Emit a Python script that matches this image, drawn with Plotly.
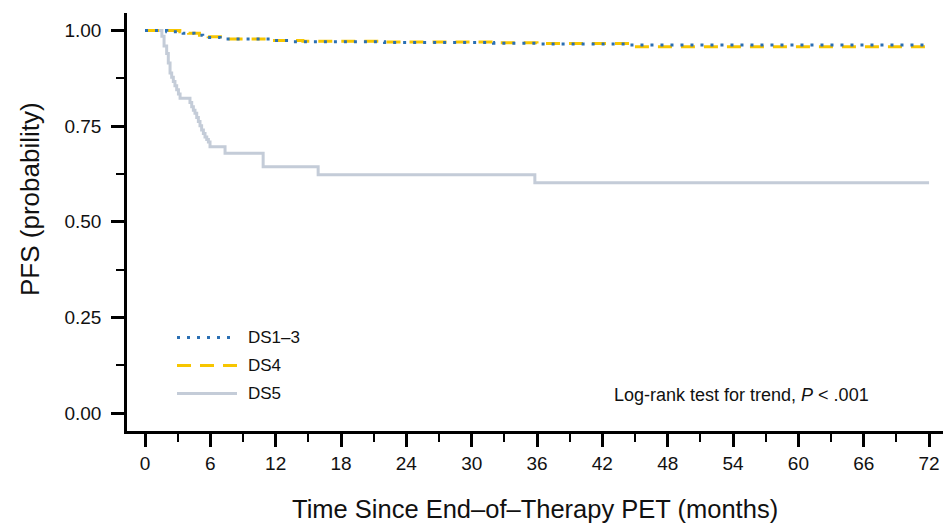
import plotly.graph_objects as go

# Kaplan-Meier step estimates of progression-free survival by Deauville score
ds13_months = [0, 2.0, 3.5, 4.5, 5.3, 6.9, 11.5, 13.5, 22.0, 32.0, 36.0, 44.5, 72.0]
ds13_surv = [1.0, 0.997, 0.993, 0.988, 0.982, 0.978, 0.974, 0.971, 0.969, 0.967, 0.965, 0.962, 0.962]

ds4_months = [0, 3.2, 4.0, 5.0, 5.8, 7.5, 11.7, 14.5, 22.0, 32.0, 36.0, 44.5, 72.0]
ds4_surv = [1.0, 0.997, 0.993, 0.988, 0.984, 0.978, 0.974, 0.972, 0.970, 0.968, 0.966, 0.958, 0.958]

ds5_months = [0, 1.55, 1.75, 1.99, 2.14, 2.30, 2.45, 2.60, 2.75, 2.91, 3.07, 3.22,
              4.13, 4.29, 4.44, 4.59, 4.75, 4.90, 5.05, 5.20, 5.36, 5.51, 5.67,
              5.82, 5.97, 7.35, 10.85, 15.9, 35.8, 72.0]
ds5_surv = [1.0, 0.985, 0.96, 0.94, 0.915, 0.889, 0.878, 0.867, 0.856, 0.845, 0.834, 0.823,
            0.812, 0.801, 0.792, 0.784, 0.773, 0.762, 0.751, 0.740, 0.731, 0.722, 0.715,
            0.709, 0.696, 0.679, 0.644, 0.623, 0.602, 0.602]

x_ticks = list(range(0, 73, 6))
y_ticks = [0, 0.25, 0.5, 0.75, 1.0]

series_names = ["DS1–3", "DS4", "DS5"]
BLUE = "#2a6fb3"
YELLOW = "#f7c600"
GRAY = "#c4ccd8"

REG = "Liberation Sans, Arial, sans-serif"

fig = go.Figure()
fig.add_trace(go.Scatter(x=ds5_months, y=ds5_surv, mode="lines", line_shape="hv",
                         line=dict(color=GRAY, width=3), name=series_names[2]))
fig.add_trace(go.Scatter(x=ds4_months, y=ds4_surv, mode="lines", line_shape="hv",
                         line=dict(color=YELLOW, width=3, dash="14px,9px"), name=series_names[1]))
fig.add_trace(go.Scatter(x=ds13_months, y=ds13_surv, mode="lines", line_shape="hv",
                         line=dict(color=BLUE, width=3, dash="3px,7px"), name=series_names[0]))

L, R, T, B = 127, 1, 13, 94
W, H = 944, 525
pw, ph = W - L - R, H - T - B


def px(xp):
    return (xp - L) / pw


def py(yp):
    return (H - B - yp) / ph


# hand-placed key in the lower-left corner
key_rows = [(series_names[0], BLUE, "3px,7px", 337.5),
            (series_names[1], YELLOW, "14px,9px", 365.5),
            (series_names[2], GRAY, "solid", 393.5)]
shapes = []
annotations = []
for label, col, dash, yp in key_rows:
    shapes.append(dict(type="line", xref="paper", yref="paper",
                       x0=px(177), x1=px(237), y0=py(yp), y1=py(yp),
                       line=dict(color=col, width=3, dash=dash)))
    annotations.append(dict(text=label, xref="paper", yref="paper", x=px(246), y=py(yp),
                            xanchor="left", yanchor="middle", showarrow=False,
                            font=dict(family=REG, size=17, color="#111")))

annotations.append(dict(text="Log-rank test for trend, <i>P</i> < .001", xref="paper", yref="paper",
                        x=px(612), y=py(395), xanchor="left", yanchor="middle", showarrow=False,
                        font=dict(family=REG, size=18, color="#111")))
annotations.append(dict(text="Time Since End–of–Therapy PET (months)", xref="paper", yref="paper",
                        x=0.5, y=py(509), xanchor="center", yanchor="middle", showarrow=False,
                        font=dict(family=REG, size=25.5, color="#111")))
annotations.append(dict(text="PFS (probability)", xref="paper", yref="paper", textangle=-90,
                        x=px(30), y=py(199), xanchor="center", yanchor="middle", showarrow=False,
                        font=dict(family=REG, size=26, color="#111")))

fig.update_layout(
    width=W, height=H,
    margin=dict(l=L, r=R, t=T, b=B),
    paper_bgcolor="white", plot_bgcolor="white",
    showlegend=False,
    shapes=shapes, annotations=annotations,
    xaxis=dict(range=[-1.653, 73.28], tickvals=x_ticks, showgrid=False, zeroline=False,
               showline=True, linecolor="black", linewidth=2.6,
               ticks="outside", ticklen=13, tickwidth=2.6, tickcolor="black",
               minor=dict(ticks="outside", ticklen=8, tickwidth=1.8, dtick=3, tick0=0,
                          tickcolor="black", showgrid=False),
               tickfont=dict(family=REG, size=19, color="#111")),
    yaxis=dict(range=[-0.047, 1.046], tickvals=y_ticks, tickformat=".2f", showgrid=False,
               zeroline=False, showline=True, linecolor="black", linewidth=2.6,
               ticks="outside", ticklen=13, tickwidth=2.6, tickcolor="black",
               ticklabelstandoff=6,
               minor=dict(ticks="outside", ticklen=8, tickwidth=1.8, dtick=0.125, tick0=0,
                          tickcolor="black", showgrid=False),
               tickfont=dict(family=REG, size=19, color="#111")),
)

fig.write_html("out.html")
